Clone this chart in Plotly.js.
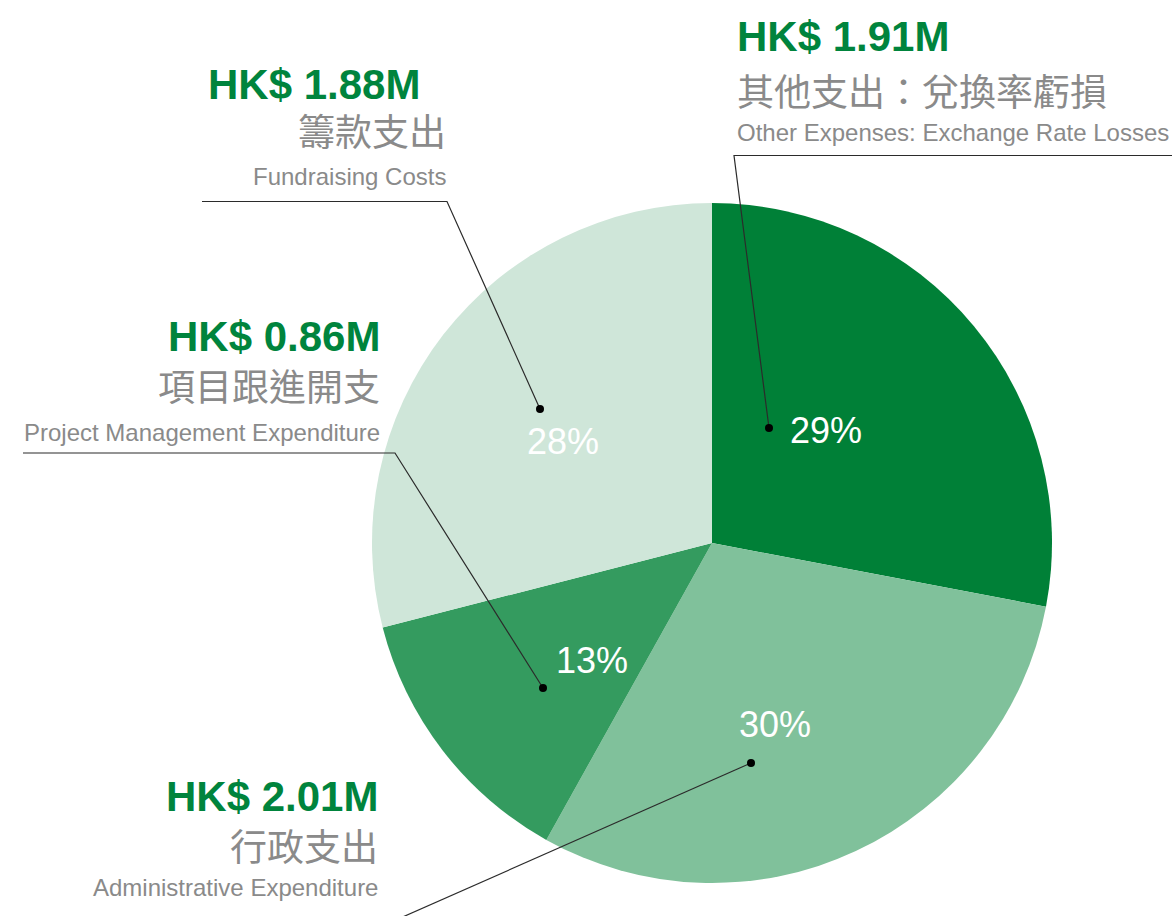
<!DOCTYPE html>
<html>
<head>
<meta charset="utf-8">
<script src="https://cdn.plot.ly/plotly-3.0.1.min.js"></script>
<style>html,body{margin:0;padding:0;background:#fff;}#chart{width:1172px;height:916px;}</style>
</head>
<body>
<div id="chart"></div>
<script>
// ---- data ----
const categoriesEn = ["Other Expenses: Exchange Rate Losses", "Administrative Expenditure", "Project Management Expenditure", "Fundraising Costs"];
const categoriesZh = ["其他支出：兌換率虧損", "行政支出", "項目跟進開支", "籌款支出"];
const amountLabels = ["HK$ 1.91M", "HK$ 2.01M", "HK$ 0.86M", "HK$ 1.88M"];
const pctLabels = ["29%", "30%", "13%", "28%"];
const sliceShares = [28.0, 30.1, 12.9, 29.0];
const sliceColors = ["#008037", "#80c19b", "#349b5f", "#cfe6d9"];

// ---- layout helpers (pixel -> paper) ----
const W = 1172, H = 916;
const px = x => x / W;
const py = y => 1 - y / H;

const groups = [
  {anchor: "left",  xa: 735, ys: [37, 90, 133]},
  {anchor: "right", xa: 380, ys: [796, 845, 887]},
  {anchor: "right", xa: 382, ys: [337, 385, 432]},
  {anchor: "right", xa: 448, ys: [85, 130, 176], amountX: 422}
];
const pctPos = [[826, 430], [775, 724], [592, 660], [563, 441]];
const dots = [[769, 428], [751, 763], [543, 688], [540, 409]];
const leaders = [
  [[1172, 155.5], [734, 155.5], [769, 428]],
  [[380, 927], [751, 763]],
  [[23, 453], [395, 453], [543, 688]],
  [[202, 201.5], [447, 201.5], [540, 409]]
];

const latin = "'Liberation Sans', Arial, sans-serif";
const annotations = [];
groups.forEach((g, i) => {
  const ax = g.amountX || g.xa;
  annotations.push({xref: "paper", yref: "paper", x: px(ax), y: py(g.ys[0]), xanchor: g.anchor, yanchor: "middle",
    text: "<b>" + amountLabels[i] + "</b>", showarrow: false,
    font: {family: latin, size: 42, color: "#00843d"}});
  annotations.push({xref: "paper", yref: "paper", x: px(g.xa), y: py(g.ys[1]), xanchor: g.anchor, yanchor: "middle",
    text: categoriesZh[i], showarrow: false,
    font: {family: "'Noto Sans CJK TC', sans-serif", size: 37, color: "#8a8a8a"}});
  annotations.push({xref: "paper", yref: "paper", x: px(g.xa), y: py(g.ys[2]), xanchor: g.anchor, yanchor: "middle",
    text: categoriesEn[i], showarrow: false,
    font: {family: latin, size: 24, color: "#8a8a8a"}});
  annotations.push({xref: "paper", yref: "paper", x: px(pctPos[i][0]), y: py(pctPos[i][1]), xanchor: "center", yanchor: "middle",
    text: pctLabels[i], showarrow: false,
    font: {family: latin, size: 36, color: "#ffffff"}});
});

const shapes = [];
leaders.forEach(pts => {
  const path = "M " + pts.map(p => px(p[0]) + "," + py(p[1])).join(" L ");
  shapes.push({type: "path", xref: "paper", yref: "paper", path: path,
    line: {color: "#2b2b2b", width: 1.2}});
});
dots.forEach(d => {
  const r = 4;
  shapes.push({type: "circle", xref: "paper", yref: "paper",
    x0: px(d[0] - r), x1: px(d[0] + r), y0: py(d[1] + r), y1: py(d[1] - r),
    fillcolor: "#000000", line: {color: "#000000", width: 0}});
});

const trace = {
  type: "pie",
  values: sliceShares,
  labels: categoriesEn,
  marker: {colors: sliceColors, line: {width: 0}},
  sort: false,
  direction: "clockwise",
  rotation: 0,
  textinfo: "none",
  hoverinfo: "label",
  showlegend: false,
  domain: {x: [px(372), px(1052)], y: [py(883), py(203)]}
};

const layout = {
  width: W, height: H,
  margin: {l: 0, r: 0, t: 0, b: 0},
  paper_bgcolor: "#ffffff",
  plot_bgcolor: "#ffffff",
  showlegend: false,
  annotations: annotations,
  shapes: shapes
};

Plotly.newPlot("chart", [trace], layout, {displayModeBar: false, staticPlot: true});
</script>
</body>
</html>
